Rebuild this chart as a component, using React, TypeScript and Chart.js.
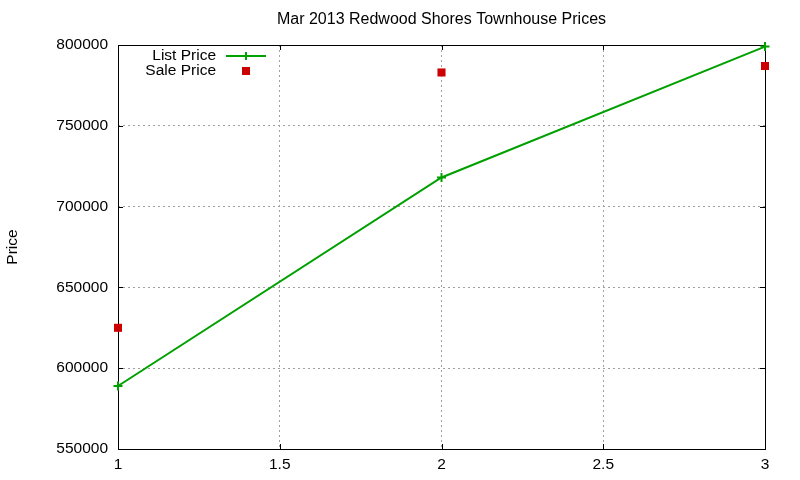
import React, { useEffect, useRef } from "react";
import { Chart, registerables } from "chart.js";
import type { Plugin } from "chart.js";

Chart.register(...registerables);

const chartTitle = "Mar 2013 Redwood Shores Townhouse Prices";
const yTitle = "Price";
const periods = [1, 2, 3];
const listPrices = [589000, 718000, 799000];
const salePrices = [625000, 783000, 787000];
const xTicks = [1, 1.5, 2, 2.5, 3];
const yTicks = [550000, 600000, 650000, 700000, 750000, 800000];

const FONT = "'Liberation Sans', Arial, sans-serif";
const GREEN = "#00a000";
const RED = "#cc0000";

// gnuplot-like box with inward ticks on all four sides, title centred on the plot
const framePlugin: Plugin<"line"> = {
  id: "frame",
  beforeDatasetsDraw(chart) {
    const { ctx, chartArea: a, scales } = chart;
    const tick = 5;
    ctx.save();
    ctx.strokeStyle = "#000";
    ctx.lineWidth = 1;
    ctx.beginPath();
    for (const v of xTicks) {
      const x = Math.round(scales.x.getPixelForValue(v)) + 0.5;
      ctx.moveTo(x, a.bottom);
      ctx.lineTo(x, a.bottom - tick);
      ctx.moveTo(x, a.top);
      ctx.lineTo(x, a.top + tick);
    }
    for (const v of yTicks) {
      const y = Math.round(scales.y.getPixelForValue(v)) + 0.5;
      ctx.moveTo(a.left, y);
      ctx.lineTo(a.left + tick, y);
      ctx.moveTo(a.right, y);
      ctx.lineTo(a.right - tick, y);
    }
    ctx.stroke();
    ctx.strokeRect(
      Math.round(a.left) + 0.5,
      Math.round(a.top) + 0.5,
      Math.round(a.right - a.left),
      Math.round(a.bottom - a.top)
    );

    ctx.font = `16px ${FONT}`;
    ctx.fillStyle = "#000";
    ctx.textAlign = "center";
    ctx.textBaseline = "middle";
    ctx.fillText(chartTitle, (a.left + a.right) / 2, 20);
    ctx.restore();
  },
  afterDatasetsDraw(chart) {
    // key in the top left corner
    const { ctx } = chart;
    const sets = chart.data.datasets;
    const textRight = 216;
    const sampleX = 246;
    const rows = [56, 71];
    ctx.save();
    ctx.font = `15.5px ${FONT}`;
    ctx.textAlign = "right";
    ctx.textBaseline = "middle";
    ctx.fillStyle = "#000";
    sets.forEach((ds, i) => {
      const y = rows[i];
      ctx.fillText(String(ds.label), textRight, y);
      if (i === 0) {
        ctx.strokeStyle = GREEN;
        ctx.lineWidth = 2;
        ctx.beginPath();
        ctx.moveTo(sampleX - 20, y);
        ctx.lineTo(sampleX + 20, y);
        ctx.moveTo(sampleX, y - 4);
        ctx.lineTo(sampleX, y + 4);
        ctx.stroke();
      } else {
        ctx.fillStyle = RED;
        ctx.fillRect(sampleX - 4, y - 4, 8, 8);
        ctx.fillStyle = "#000";
      }
    });
    ctx.restore();
  },
};

export default function App() {
  const canvasRef = useRef<HTMLCanvasElement | null>(null);
  const chartRef = useRef<Chart | null>(null);

  useEffect(() => {
    document.body.style.margin = "0";
    const canvas = canvasRef.current;
    if (!canvas) return;

    chartRef.current = new Chart(canvas, {
      type: "line",
      data: {
        datasets: [
          {
            label: "List Price",
            data: periods.map((p, i) => ({ x: p, y: listPrices[i] })),
            borderColor: GREEN,
            backgroundColor: GREEN,
            borderWidth: 2,
            pointStyle: "cross",
            pointRadius: 4.5,
            pointBorderWidth: 2,
            pointBorderColor: GREEN,
            tension: 0,
            clip: false,
          },
          {
            label: "Sale Price",
            data: periods.map((p, i) => ({ x: p, y: salePrices[i] })),
            showLine: false,
            borderColor: RED,
            backgroundColor: RED,
            pointStyle: "rect",
            pointRadius: 5.7,
            pointBorderWidth: 0,
            clip: false,
          },
        ],
      },
      options: {
        responsive: false,
        animation: false,
        layout: { padding: { left: 0, right: 35, top: 45, bottom: 0 } },
        plugins: {
          legend: { display: false },
          tooltip: { enabled: false },
          title: { display: false },
        },
        scales: {
          x: {
            type: "linear",
            min: 1,
            max: 3,
            afterFit: (s) => {
              s.height = 31;
            },
            afterBuildTicks: (s) => {
              s.ticks = xTicks.map((v) => ({ value: v }));
            },
            ticks: {
              color: "#000",
              font: { family: FONT, size: 15.5 },
              padding: 6,
              maxRotation: 0,
              callback: (v) => String(v),
            },
            grid: {
              drawTicks: false,
              color: "#a0a0a0",
              lineWidth: 1,
            },
            border: { display: false, dash: [2, 3] },
          },
          y: {
            type: "linear",
            min: 550000,
            max: 800000,
            afterFit: (s) => {
              s.width = 118;
            },
            afterBuildTicks: (s) => {
              s.ticks = yTicks.map((v) => ({ value: v }));
            },
            title: {
              display: true,
              text: yTitle,
              color: "#000",
              font: { family: FONT, size: 15.5, lineHeight: 1.2 },
              padding: { top: 3, bottom: 0 },
            },
            ticks: {
              color: "#000",
              font: { family: FONT, size: 15.5 },
              padding: 10,
              callback: (v) => String(v),
            },
            grid: {
              drawTicks: false,
              color: "#a0a0a0",
              lineWidth: 1,
            },
            border: { display: false, dash: [2, 3] },
          },
        },
      },
      plugins: [framePlugin],
    });

    return () => {
      chartRef.current?.destroy();
      chartRef.current = null;
    };
  }, []);

  return <canvas ref={canvasRef} width={800} height={480} />;
}
